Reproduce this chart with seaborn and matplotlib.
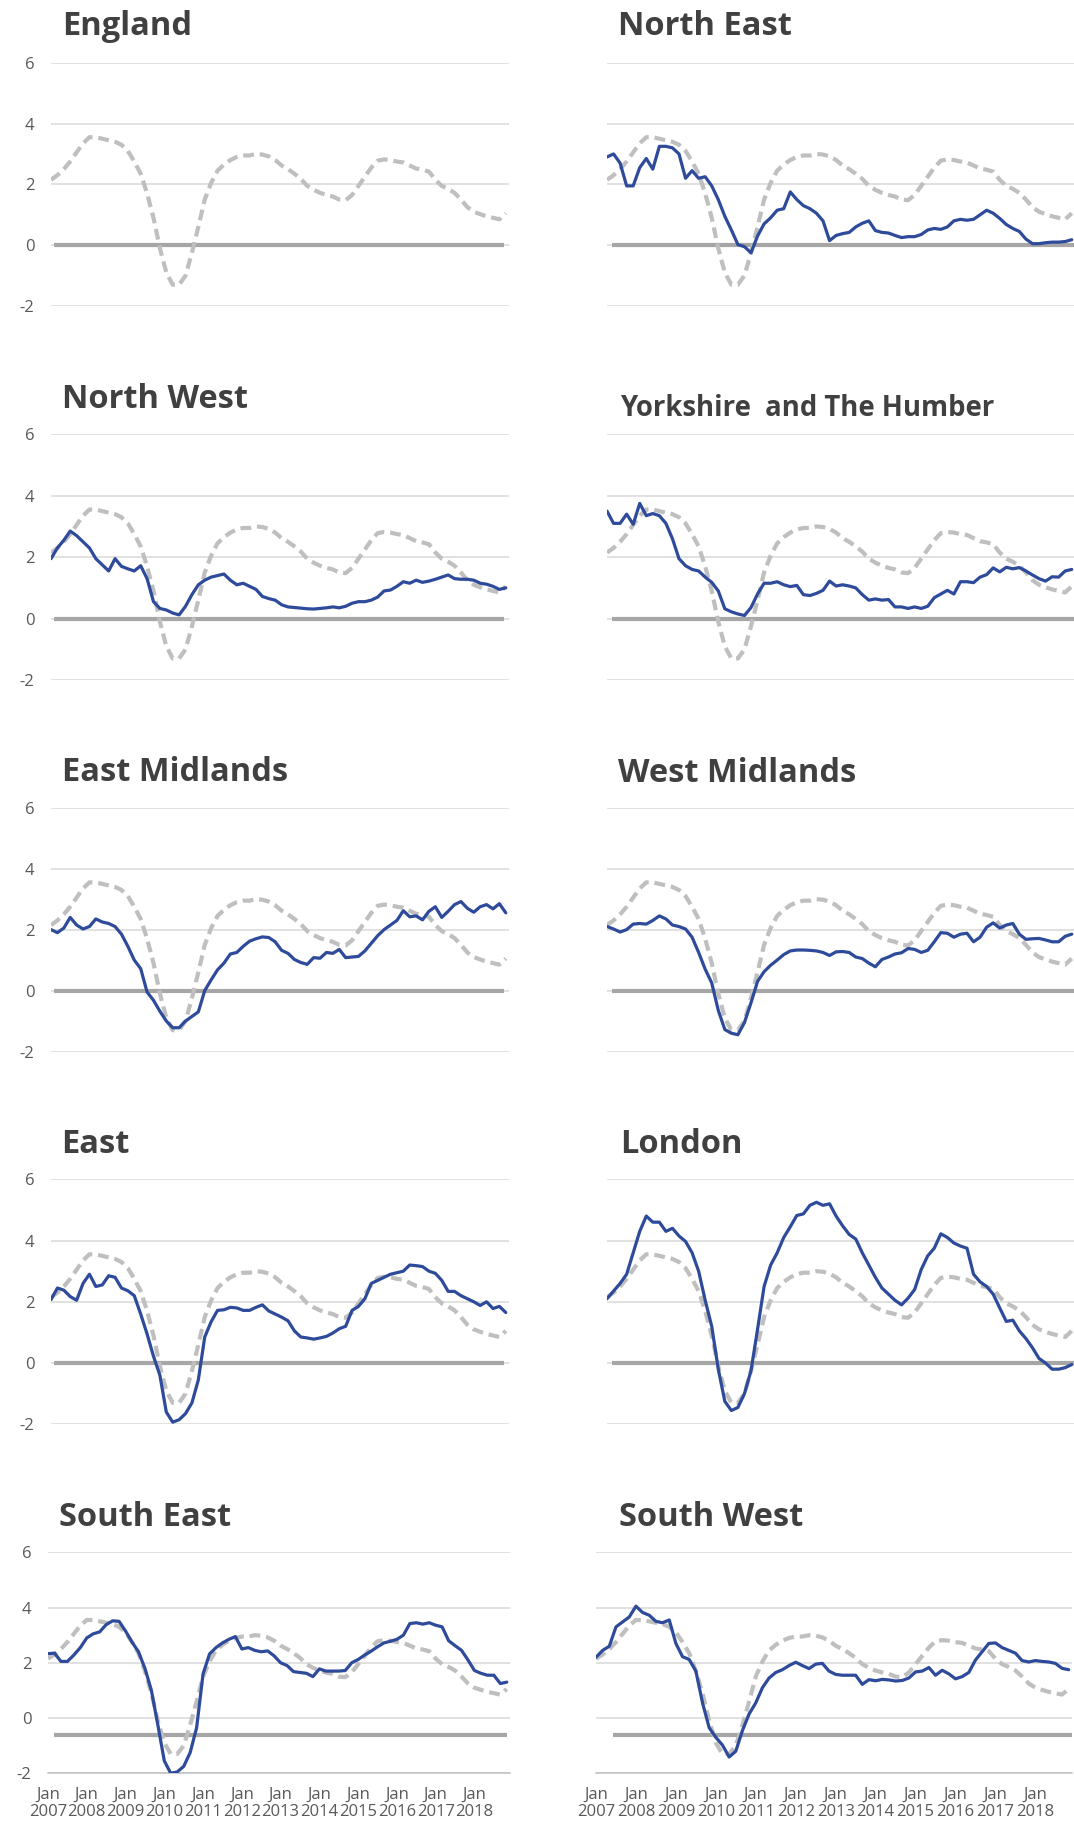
import matplotlib
matplotlib.use("Agg")
import matplotlib.pyplot as plt
import seaborn as sns
import pandas as pd

sns.set_style("white")
plt.rcParams["font.family"] = ["Open Sans", "DejaVu Sans"]
plt.rcParams["axes.unicode_minus"] = False

# ---------------- data (bi-monthly readings, month index 0 = Jan 2007) ----------------
months = list(range(0, 144, 2))
year_ticks = list(range(0, 144, 12))
year_labels = [f"Jan\n{y}" for y in range(2007, 2019)]
y_ticks = [-2, 0, 2, 4, 6]

england = [2.15, 2.3, 2.5, 2.75, 3.05, 3.35, 3.55, 3.55, 3.5, 3.45, 3.4, 3.3,
           3.1, 2.75, 2.35, 1.7, 0.9, -0.1, -0.9, -1.3, -1.3, -1.0, -0.25, 0.6,
           1.5, 2.05, 2.45, 2.65, 2.8, 2.9, 2.95, 2.95, 3.0, 2.98, 2.92, 2.8,
           2.62, 2.5, 2.35, 2.18, 1.95, 1.82, 1.72, 1.65, 1.6, 1.5, 1.48, 1.65,
           1.95, 2.25, 2.55, 2.78, 2.82, 2.8, 2.75, 2.72, 2.62, 2.52, 2.48, 2.42,
           2.15, 1.95, 1.85, 1.72, 1.5, 1.25, 1.1, 1.02, 0.95, 0.9, 0.85, 1.05]

north_east = [2.9, 3.0, 2.7, 1.95, 1.95, 2.55, 2.85, 2.5, 3.25, 3.25, 3.2, 3.0,
              2.2, 2.45, 2.2, 2.25, 1.95, 1.5, 0.95, 0.5, 0.02, -0.05, -0.25, 0.3,
              0.7, 0.9, 1.15, 1.2, 1.75, 1.5, 1.3, 1.2, 1.05, 0.8, 0.15, 0.32,
              0.38, 0.42, 0.6, 0.72, 0.8, 0.48, 0.42, 0.4, 0.32, 0.25, 0.28, 0.28,
              0.35, 0.5, 0.55, 0.52, 0.6, 0.8, 0.85, 0.82, 0.85, 1.0, 1.15, 1.05,
              0.88, 0.68, 0.55, 0.45, 0.2, 0.05, 0.05, 0.08, 0.1, 0.1, 0.12, 0.18]

north_west = [1.95, 2.3, 2.55, 2.85, 2.7, 2.5, 2.3, 1.95, 1.75, 1.55, 1.95, 1.7,
              1.62, 1.55, 1.72, 1.3, 0.55, 0.33, 0.28, 0.18, 0.12, 0.4, 0.78, 1.1,
              1.25, 1.35, 1.4, 1.45, 1.25, 1.1, 1.15, 1.05, 0.95, 0.72, 0.65, 0.6,
              0.45, 0.38, 0.36, 0.34, 0.32, 0.31, 0.33, 0.35, 0.38, 0.35, 0.4, 0.5,
              0.55, 0.55, 0.6, 0.7, 0.9, 0.93, 1.05, 1.2, 1.15, 1.25, 1.18, 1.22,
              1.28, 1.35, 1.42, 1.3, 1.28, 1.28, 1.25, 1.15, 1.12, 1.05, 0.95, 1.0]

yorkshire = [3.5, 3.1, 3.1, 3.4, 3.07, 3.75, 3.35, 3.42, 3.35, 3.1, 2.6, 1.95,
             1.72, 1.6, 1.55, 1.35, 1.18, 0.9, 0.32, 0.22, 0.15, 0.1, 0.36, 0.8,
             1.15, 1.15, 1.2, 1.1, 1.04, 1.08, 0.78, 0.75, 0.82, 0.92, 1.22, 1.06,
             1.1, 1.06, 1.0, 0.78, 0.6, 0.64, 0.6, 0.62, 0.38, 0.38, 0.33, 0.38,
             0.33, 0.4, 0.68, 0.8, 0.92, 0.8, 1.2, 1.2, 1.17, 1.35, 1.43, 1.65,
             1.52, 1.67, 1.62, 1.66, 1.55, 1.42, 1.3, 1.22, 1.36, 1.35, 1.55, 1.6]

east_midlands = [2.0, 1.9, 2.05, 2.4, 2.15, 2.02, 2.1, 2.35, 2.25, 2.2, 2.1, 1.85,
                 1.45, 1.0, 0.72, -0.05, -0.32, -0.68, -1.0, -1.22, -1.22, -1.0, -0.85, -0.7,
                 0.0, 0.35, 0.68, 0.9, 1.2, 1.25, 1.45, 1.62, 1.7, 1.76, 1.74, 1.6,
                 1.32, 1.22, 1.02, 0.92, 0.86, 1.08, 1.06, 1.25, 1.22, 1.35, 1.08, 1.1,
                 1.12, 1.3, 1.55, 1.8, 2.0, 2.15, 2.3, 2.62, 2.42, 2.45, 2.32, 2.6,
                 2.75, 2.4, 2.6, 2.82, 2.92, 2.7, 2.57, 2.75, 2.82, 2.68, 2.85, 2.55]

west_midlands = [2.1, 2.02, 1.92, 2.0, 2.18, 2.2, 2.18, 2.3, 2.45, 2.35, 2.15, 2.1,
                 2.02, 1.75, 1.25, 0.7, 0.25, -0.65, -1.28, -1.4, -1.45, -1.05, -0.4, 0.3,
                 0.62, 0.83, 1.0, 1.18, 1.3, 1.33, 1.33, 1.32, 1.3, 1.25, 1.15, 1.27,
                 1.28, 1.25, 1.1, 1.05, 0.9, 0.78, 1.02, 1.1, 1.2, 1.24, 1.38, 1.35,
                 1.25, 1.32, 1.6, 1.9, 1.88, 1.75, 1.85, 1.88, 1.6, 1.75, 2.08, 2.22,
                 2.05, 2.15, 2.2, 1.85, 1.68, 1.7, 1.71, 1.66, 1.6, 1.6, 1.78, 1.85]

east = [2.07, 2.45, 2.38, 2.17, 2.05, 2.6, 2.9, 2.5, 2.55, 2.85, 2.8, 2.45,
        2.36, 2.2, 1.6, 0.95, 0.22, -0.4, -1.6, -1.93, -1.85, -1.65, -1.3, -0.55,
        0.85, 1.35, 1.72, 1.74, 1.82, 1.8, 1.72, 1.72, 1.82, 1.9, 1.7, 1.6,
        1.5, 1.38, 1.05, 0.85, 0.82, 0.78, 0.82, 0.87, 0.98, 1.12, 1.2, 1.72,
        1.85, 2.1, 2.6, 2.7, 2.8, 2.9, 2.95, 3.0, 3.2, 3.18, 3.15, 3.0,
        2.93, 2.7, 2.34, 2.34, 2.2, 2.1, 2.0, 1.88, 2.0, 1.78, 1.85, 1.65]

london = [2.1, 2.35, 2.6, 2.9, 3.6, 4.3, 4.8, 4.6, 4.6, 4.3, 4.4, 4.15,
          3.97, 3.6, 3.0, 2.05, 1.2, -0.2, -1.25, -1.55, -1.45, -1.0, -0.25, 1.1,
          2.5, 3.2, 3.6, 4.1, 4.45, 4.82, 4.87, 5.15, 5.25, 5.15, 5.2, 4.8,
          4.48, 4.2, 4.05, 3.6, 3.2, 2.8, 2.45, 2.25, 2.05, 1.9, 2.12, 2.4,
          3.05, 3.5, 3.75, 4.22, 4.1, 3.92, 3.82, 3.75, 2.9, 2.65, 2.5, 2.25,
          1.8, 1.36, 1.4, 1.05, 0.8, 0.5, 0.15, 0.0, -0.2, -0.2, -0.15, -0.05]

south_east = [2.33, 2.35, 2.05, 2.05, 2.28, 2.55, 2.9, 3.05, 3.12, 3.38, 3.52, 3.5,
              3.15, 2.75, 2.4, 1.8, 1.0, -0.25, -1.55, -2.0, -1.95, -1.75, -1.25, -0.35,
              1.6, 2.32, 2.55, 2.72, 2.85, 2.95, 2.5, 2.55, 2.45, 2.4, 2.43, 2.25,
              2.0, 1.9, 1.68, 1.65, 1.62, 1.5, 1.78, 1.7, 1.7, 1.7, 1.72, 2.0,
              2.12, 2.28, 2.42, 2.58, 2.72, 2.78, 2.85, 3.0, 3.42, 3.45, 3.4, 3.45,
              3.36, 3.3, 2.8, 2.62, 2.45, 2.1, 1.72, 1.62, 1.55, 1.55, 1.25, 1.3]

south_west = [2.2, 2.45, 2.6, 3.3, 3.48, 3.66, 4.05, 3.82, 3.72, 3.5, 3.45, 3.55,
              2.7, 2.22, 2.12, 1.7, 0.55, -0.35, -0.7, -0.98, -1.41, -1.2, -0.45, 0.15,
              0.55, 1.1, 1.45, 1.65, 1.75, 1.9, 2.02, 1.9, 1.79, 1.95, 1.98, 1.7,
              1.58, 1.55, 1.55, 1.55, 1.22, 1.39, 1.35, 1.4, 1.38, 1.34, 1.36, 1.45,
              1.67, 1.7, 1.83, 1.55, 1.73, 1.6, 1.42, 1.5, 1.65, 2.1, 2.4, 2.7,
              2.72, 2.55, 2.45, 2.35, 2.08, 2.03, 2.08, 2.05, 2.03, 1.98, 1.8, 1.75]

# thick reference line per row: level
ref_levels = [0, 0, 0, 0, -0.63]

# ---------------- layout (pixels on a 1074 x 1829 canvas) ----------------
W, H = 1074, 1829
fig = plt.figure(figsize=(W / 100, H / 100), dpi=100)
fig.patch.set_facecolor("white")

row_y = [(62.7, 306.0), (434.3, 680.0), (807.7, 1051.5), (1179.3, 1424.3), (1552.3, 1773.3)]
col_x = {0: [(51, 509)] * 4 + [(48, 510)], 1: [(607, 1075)] * 4 + [(596, 1072)]}
ref_span = {0: [(1, 141.5)] * 4 + [(2, 142)], 1: [(1.5, 143)] * 4 + [(5, 143)]}

panels = [
    ("England", None, 0, 0, (62, 35), 23.5),
    ("North East", north_east, 0, 1, (618, 35), 23.5),
    ("North West", north_west, 1, 0, (62, 407.7), 23.5),
    ("Yorkshire  and The Humber", yorkshire, 1, 1, (620.5, 416), 19.8),
    ("East Midlands", east_midlands, 2, 0, (62, 780.7), 23.5),
    ("West Midlands", west_midlands, 2, 1, (618, 781.7), 23.5),
    ("East", east, 3, 0, (61, 1152.7), 23.5),
    ("London", london, 3, 1, (620, 1152.7), 23.5),
    ("South East", south_east, 4, 0, (59, 1525.7), 23.5),
    ("South West", south_west, 4, 1, (619, 1525.7), 23.5),
]

BLUE = "#2E4A9A"
DASH = "#BFBFBF"
REF = "#A6A6A6"
GRID = "#D9D9D9"
TICKC = "#595959"
TITLEC = "#404040"

for title, series, r, c, (tx, ty), fs in panels:
    x0, x1 = col_x[c][r]
    yt, yb = row_y[r]
    ax = fig.add_axes([x0 / W, 1 - yb / H, (x1 - x0) / W, (yb - yt) / H])
    ax.set_facecolor("none")
    ax.set_xlim(0, 143)
    ax.set_ylim(-2, 6)
    ax.set_yticks(y_ticks)
    ax.yaxis.grid(True, color=GRID, lw=1.1, zorder=0)
    ax.xaxis.grid(False)
    ax.set_axisbelow(True)
    for s in ["left", "right", "top", "bottom"]:
        ax.spines[s].set_visible(False)

    # thick reference line
    s0, s1 = ref_span[c][r]
    sns.lineplot(x=[s0, s1], y=[ref_levels[r]] * 2, ax=ax, color=REF, lw=3.0,
                 solid_capstyle="butt", zorder=2)
    # England comparison
    sns.lineplot(x=months, y=england, ax=ax, color=DASH, lw=3.0,
                 linestyle=(0, (2.6, 1.4)), zorder=3)
    if series is not None:
        sns.lineplot(x=months, y=series, ax=ax, color=BLUE, lw=2.3, zorder=4)

    ax.set_xlabel("")
    ax.set_ylabel("")
    if c == 0:
        ax.tick_params(axis="y", length=0, pad=12, labelsize=12, labelcolor=TICKC)
        ax.set_yticklabels([str(v) for v in y_ticks])
    else:
        ax.tick_params(axis="y", length=0, labelleft=False)

    if r == 4:
        ax.spines["bottom"].set_visible(True)
        ax.spines["bottom"].set_color("#BFBFBF")
        ax.spines["bottom"].set_linewidth(1.1)
        ax.set_xticks(year_ticks)
        ax.set_xticklabels(year_labels)
        ax.tick_params(axis="x", length=6, width=1.1, color="#BFBFBF", direction="out",
                       pad=3.5, labelsize=12, labelcolor=TICKC)
        for lab in ax.get_xticklabels():
            lab.set_linespacing(1.1)
    else:
        ax.set_xticks([])

    fig.text(tx / W, 1 - ty / H, title, fontsize=fs, fontweight="bold",
             color=TITLEC, ha="left", va="baseline")

fig.savefig("out.png", dpi=100, facecolor="white")
